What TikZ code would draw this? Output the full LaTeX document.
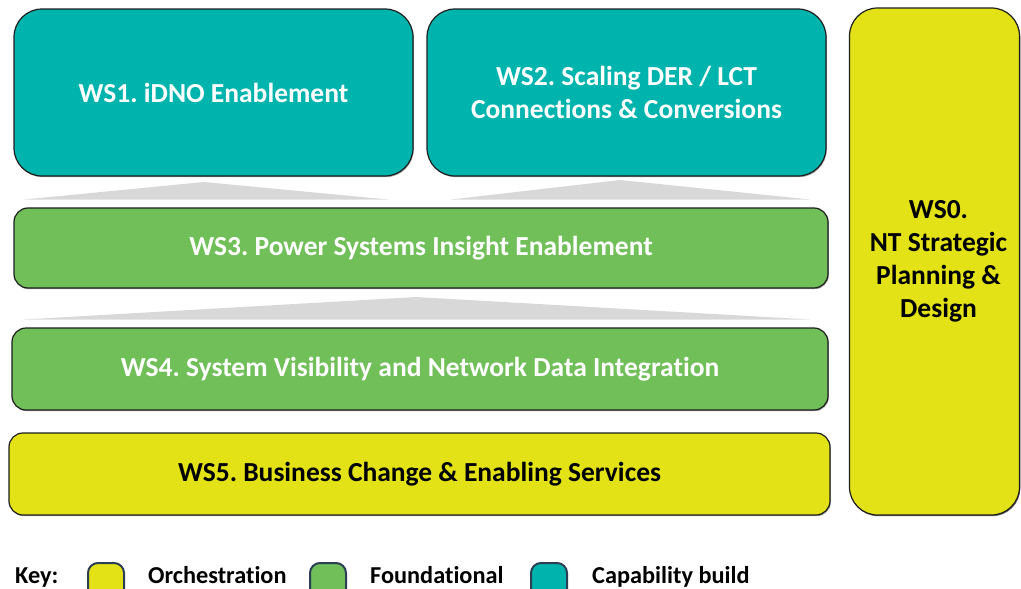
\documentclass[tikz,border=0pt]{standalone}
\usepackage{fontspec}
\setmainfont{Carlito}[Ligatures=NoCommon]
\usetikzlibrary{shadows}
\definecolor{teal}{RGB}{0,180,174}
\definecolor{leaf}{RGB}{112,191,89}
\definecolor{lime}{RGB}{226,226,22}
\definecolor{rim}{RGB}{30,30,30}
\definecolor{keyrim}{RGB}{44,62,84}
\definecolor{wedge}{RGB}{216,216,216}
\tikzset{
  wsbox/.style={draw=rim, line width=1.2pt, rounded corners=#1, inner sep=0pt,
    align=center, font=\bfseries\fontsize{27.5}{33}\selectfont,
    drop shadow={shadow xshift=0.8pt, shadow yshift=-1.2pt, opacity=0.35, fill=black}},
  wsbox/.default=15pt,
  capab/.style={wsbox=28pt, fill=teal, text=white},
  found/.style={wsbox=14pt, fill=leaf, text=white},
  orch/.style={wsbox=14pt, fill=lime, text=black},
  keybox/.style={draw=keyrim, line width=2pt, rounded corners=10pt,
    minimum width=36pt, minimum height=36pt, inner sep=0pt},
  keytext/.style={font=\bfseries\fontsize{24.3}{29}\selectfont, anchor=base west, inner sep=0pt},
  support/.style={fill=wedge, draw=none}
}
\begin{document}
\frenchspacing
\begin{tikzpicture}[x=1pt, y=-1pt]
\useasboundingbox (0,0) rectangle (1021,589);

% capability build workstreams
\node[capab, minimum width=399pt, minimum height=167pt] (ws1) at (213.5,92.5) {WS1. iDNO Enablement};
\node[capab, minimum width=399pt, minimum height=167pt] (ws2) at (626.5,92.5) {WS2. Scaling DER / LCT\\Connections \& Conversions};

% strategic planning column
\node[orch, wsbox=28pt, fill=lime, minimum width=170pt, minimum height=507pt] (ws0) at (934.5,261.5) {};
\node[font=\bfseries\fontsize{27.5}{33}\selectfont, align=center, inner sep=0pt] (ws0t) at ([xshift=4pt]ws0.center) {WS0.\\NT Strategic\\Planning \&\\Design};

% supporting wedges between layers
\path[support] (24,199.5) -- (204,182) -- (388,199.5) -- cycle;
\path[support] (451,199.5) -- (620,180) -- (810,199.5) -- cycle;
\path[support] (24,319.5) -- (416,297) -- (810,319.5) -- cycle;

% foundational layers
\node[found, minimum width=814pt, minimum height=80pt] (ws3) at (421,248) {WS3. Power Systems Insight Enablement};
\node[found, minimum width=816pt, minimum height=82pt] (ws4) at (420,369) {WS4. System Visibility and Network Data Integration};

% orchestration base
\node[orch, minimum width=821pt, minimum height=82pt] (ws5) at (419.5,474) {WS5. Business Change \& Enabling Services};

% key
\node[keytext] (key) at (15,583) {Key:};
\node[keybox, fill=lime, anchor=north west] (k1) at (87,562) {};
\node[keytext] (k1t) at (148,583) {Orchestration};
\node[keybox, fill=leaf, anchor=north west] (k2) at (309,562) {};
\node[keytext] (k2t) at (370,583) {Foundational};
\node[keybox, fill=teal, anchor=north west] (k3) at (530,562) {};
\node[keytext] (k3t) at (592,583) {Capability build};
\end{tikzpicture}
\end{document}
